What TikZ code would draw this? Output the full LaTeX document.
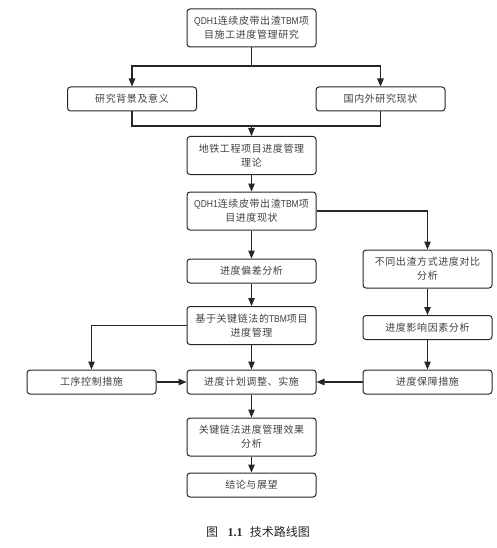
\documentclass[tikz,border=0pt]{standalone}
\usepackage{fontspec}
\setmainfont{Noto Sans CJK SC}[LetterSpace=6]
\newfontfamily\capfont{Noto Sans CJK SC}
\newfontfamily\latn{Liberation Sans}[FakeStretch=0.85]
\newfontfamily\capnum{Liberation Serif}
\usetikzlibrary{arrows.meta}
\newcommand{\lt}[1]{{\latn #1}}
\begin{document}
\begin{tikzpicture}[x=1pt,y=-1pt,
  box/.style={draw=black!85, line width=1pt, rounded corners=3pt, minimum width=129pt,
    align=center, font=\fontsize{10}{14}\selectfont, text=black!75, inner sep=0pt},
  tallbox/.style={box, minimum height=38pt},
  shortbox/.style={box, minimum height=24pt},
  link/.style={draw=black!85, line width=1.1pt},
  arr/.style={link, -{Triangle[length=8pt,width=6.5pt]}}]
\useasboundingbox (0,0) rectangle (497,548);

\node[tallbox] (b1) at (251.5,28) {\lt{QDH1}连续皮带出渣\lt{TBM}项\\目施工进度管理研究};
\node[shortbox] (b2) at (132,99) {研究背景及意义};
\node[shortbox] (b3) at (380.5,99) {国内外研究现状};
\node[tallbox] (b4) at (251.5,155.5) {地铁工程项目进度管理\\理论};
\node[tallbox] (b5) at (251.5,211) {\lt{QDH1}连续皮带出渣\lt{TBM}项\\目进度现状};
\node[shortbox] (b6) at (251.5,271) {进度偏差分析};
\node[tallbox] (b7) at (427.5,269) {不同出渣方式进度对比\\分析};
\node[tallbox] (b8) at (251.5,325.5) {基于关键链法的\lt{TBM}项目\\进度管理};
\node[shortbox] (b9) at (427.5,327.5) {进度影响因素分析};
\node[shortbox] (b10) at (91.5,382) {工序控制措施};
\node[shortbox] (b11) at (251.5,382) {进度计划调整、实施};
\node[shortbox] (b12) at (427.5,382) {进度保障措施};
\node[tallbox] (b13) at (251.5,437) {关键链法进度管理效果\\分析};
\node[shortbox] (b14) at (251.5,485) {结论与展望};
\node[font=\capfont\fontsize{12}{14}\selectfont, text=black!85] (cap) at (258,532)
  {图\hspace{0.8em}{\capnum\bfseries 1.1}\hspace{0.6em}技术路线图};

\coordinate (s1) at (251.5,66);
\coordinate (j1) at (251.5,126);
\draw[link] (b1.south) -- (s1);
\draw[arr] (s1) -| (b2.north);
\draw[arr] (s1) -| (b3.north);
\draw[link] (b2.south) |- (j1);
\draw[link] (b3.south) |- (j1);
\draw[arr] (j1) -- (b4.north);
\draw[arr] (b4) -- (b5);
\draw[arr] (b5) -- (b6);
\draw[arr] (b5.east) -| (b7.north);
\draw[arr] (b6) -- (b8);
\draw[arr] (b7) -- (b9);
\draw[arr] (b8.west) -| (b10.north);
\draw[arr] (b8) -- (b11);
\draw[arr] (b9) -- (b12);
\draw[arr] (b10) -- (b11);
\draw[arr] (b12) -- (b11);
\draw[arr] (b11) -- (b13);
\draw[arr] (b13) -- (b14);
\end{tikzpicture}
\end{document}
